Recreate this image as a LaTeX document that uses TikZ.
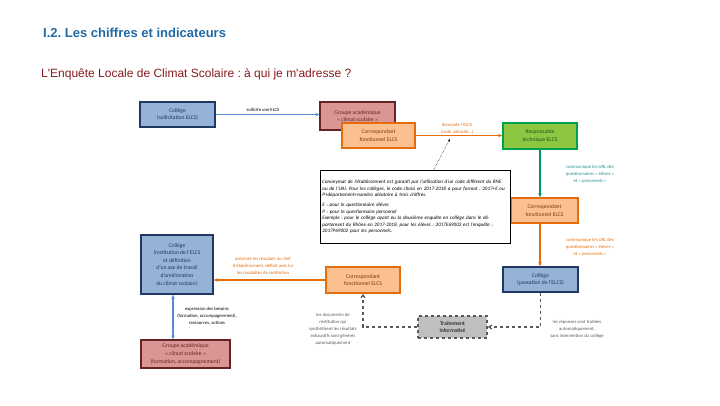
\documentclass[tikz,border=0pt]{standalone}
\usepackage{fontspec}
\setmainfont{Carlito}
\newfontfamily\arialfont{Liberation Sans}
\usetikzlibrary{calc, positioning}
\usetikzlibrary{arrows.meta}
\frenchspacing

\definecolor{titleblue}{HTML}{1F69A5}
\definecolor{subred}{HTML}{861A1E}
\definecolor{colfill}{HTML}{95B3D7}
\definecolor{coldraw}{HTML}{1F3864}
\definecolor{grpfill}{HTML}{D99694}
\definecolor{grpdraw}{HTML}{632523}
\definecolor{corrfill}{HTML}{FAC090}
\definecolor{corrdraw}{HTML}{E46C0A}
\definecolor{corrtext}{HTML}{7F3A06}
\definecolor{respfill}{HTML}{8DC640}
\definecolor{respdraw}{HTML}{00A050}
\definecolor{resptext}{HTML}{1E5A1E}
\definecolor{traitfill}{HTML}{BFBFBF}
\definecolor{traitdraw}{HTML}{595959}
\definecolor{arrblue}{HTML}{558ED5}
\definecolor{arrgreen}{HTML}{00956A}
\definecolor{lblgreen}{HTML}{2B8A8A}

\begin{document}
\begin{tikzpicture}[x=1pt, y=-1pt,
  box/.style={draw, line width=1.6pt, align=center, inner sep=1pt,
    font=\fontsize{5.6}{7.6}\selectfont},
  colbox/.style={box, fill=colfill, draw=coldraw, text=coldraw},
  grpbox/.style={box, fill=grpfill, draw=grpdraw, line width=1.3pt, text=grpdraw},
  corrbox/.style={box, fill=corrfill, draw=corrdraw, text=corrtext},
  respbox/.style={box, fill=respfill, draw=respdraw, text=resptext},
  traitbox/.style={box, fill=traitfill, draw=traitdraw, dashed, text=black},
  notebox/.style={draw, line width=0.8pt, fill=white, align=left, inner sep=2pt,
    text width=186pt, font=\fontsize{5.1}{6.6}\selectfont\itshape},
  lbl/.style={align=center, inner sep=0pt, font=\fontsize{4.7}{7}\selectfont},
  bluearrow/.style={draw=arrblue, line width=1.1pt, -{Stealth[length=4pt,width=3.5pt]}},
  orangearrow/.style={draw=corrdraw, line width=1.1pt, -{Stealth[length=4pt,width=3.5pt]}},
  greenarrow/.style={draw=arrgreen, line width=1.4pt, -{Stealth[length=4pt,width=3.5pt]}},
  grayarrow/.style={draw=traitdraw, line width=1.2pt, dashed, -{Straight Barb[length=3pt,width=4pt]}},
]
\useasboundingbox (0,0) rectangle (720,405);

% titres
\node[anchor=west, inner sep=0pt, text=titleblue, font=\arialfont\fontsize{13}{15}\selectfont\bfseries]
  (titre) at (43,33) {I.2. Les chiffres et indicateurs};
\node[anchor=west, inner sep=0pt, text=subred, font=\arialfont\fontsize{12}{14}\selectfont]
  (soustitre) at (41,74) {L'Enquête Locale de Climat Scolaire : à qui je m'adresse ?};

% boites
\node[colbox, minimum width=75pt, minimum height=25pt] (collegeA) at (177.5,114.5)
  {Collège\\(sollicitation ELCS)};
\node[grpbox, minimum width=75pt, minimum height=28pt] (groupeA) at (357.5,116)
  {Groupe académique\\« climat scolaire »};
\node[corrbox, minimum width=73pt, minimum height=25pt] (corrA) at (378.5,135.5)
  {Correspondant\\fonctionnel ELCS};
\node[respbox, minimum width=74pt, minimum height=26pt] (respT) at (540,136)
  {Responsable\\technique ELCS};
\node[corrbox, minimum width=67pt, minimum height=25pt] (corrB) at (544.5,210.5)
  {Correspondant\\fonctionnel ELCS};
\node[colbox, minimum width=75pt, minimum height=25pt] (collegeB) at (540.5,279.5)
  {Collège\\(passation de l'ELCS)};
\node[corrbox, minimum width=74pt, minimum height=26pt] (corrC) at (363,280)
  {Correspondant\\fonctionnel ELCS};
\node[colbox, minimum width=72pt, minimum height=59pt] (collegeC) at (177,264.5)
  {Collège\\(restitution de l'ELCS\\et définition\\d'un axe de travail\\d'amélioration\\du climat scolaire)};
\node[grpbox, minimum width=89pt, minimum height=28pt] (groupeB) at (185.5,354)
  {Groupe académique\\« climat scolaire »\\(formation, accompagnement)};
\node[traitbox, minimum width=69pt, minimum height=22pt] (traitB) at (452.5,327)
  {Traitement\\informatisé};

% encadre
\node[notebox, anchor=north west, minimum height=73pt] (note) at (320,170)
  {L'anonymat de l'établissement est garanti par l'utilisation d'un code différent du
   RNE ou de l'UAI. Pour les collèges, le code choisi en 2017-2018 a pour format :
   2017+E ou P+département+numéro aléatoire à trois chiffres.\\[3pt]
   E : pour le questionnaire élèves\\
   P : pour le questionnaire personnel\\
   Exemple : pour le collège ayant eu la deuxième enquête en collège dans le département
   du Rhône en 2017-2018, pour les élèves : 2017E69002 est l'enquête ; 2017P69002 pour les
   personnels.};

% fleches
\draw[bluearrow] (collegeA.east) -- (collegeA.east -| groupeA.west);
\node[lbl, anchor=south] (lblA) at (263,112) {sollicite une ELCS};

\draw[orangearrow] (corrA.east) -- (corrA.east -| respT.west);
\node[lbl, text=corrdraw] (lblB) at (457,129) {demande l'ELCS\\(code, période...)};

\coordinate (pointe) at (450,139);
\draw[densely dotted, line width=0.5pt, -{Stealth[length=3pt]}]
  ($(note.north west)!0.595!(note.north east)$) -- (pointe);

\draw[greenarrow] (respT.south) -- (respT.south |- corrB.north);
\node[lbl, text=lblgreen] (lblC) at (590,174)
  {communique les URL des\\questionnaires « élèves »\\et « personnels »};

\draw[orangearrow] (respT.south |- corrB.south) -- (respT.south |- collegeB.north);
\node[lbl, text=corrdraw] (lblD) at (590,247)
  {communique les URL des\\questionnaires « élèves »\\et « personnels »};

\draw[grayarrow] (collegeB.south) |- (traitB.east);
\node[lbl, text=traitdraw] (lblE) at (577,329)
  {les réponses sont traitées\\automatiquement,\\sans intervention du collège};

\draw[grayarrow] (traitB.west) -| (corrC.south);
\node[lbl, text=traitdraw] (lblF) at (333,329.5)
  {les documents de\\restitution qui\\synthétisent les résultats\\exhaustifs sont générés\\automatiquement};

\draw[orangearrow] (corrC.west) -- (corrC.west -| collegeC.east);
\node[lbl, text=corrdraw] (lblG) at (263,266)
  {présente les résultats au chef\\d'établissement, définit avec lui\\les modalités de restitution};

\draw[bluearrow, {Stealth[length=4pt,width=3.5pt]}-{Stealth[length=4pt,width=3.5pt]}]
  ($(collegeC.south)+(-4,0)$) -- ($(collegeC.south |- groupeB.north)+(-4,0)$);
\node[lbl] (lblH) at (207,316)
  {expression des besoins\\(formation, accompagnement),\\ressources, actions};
\end{tikzpicture}
\end{document}
